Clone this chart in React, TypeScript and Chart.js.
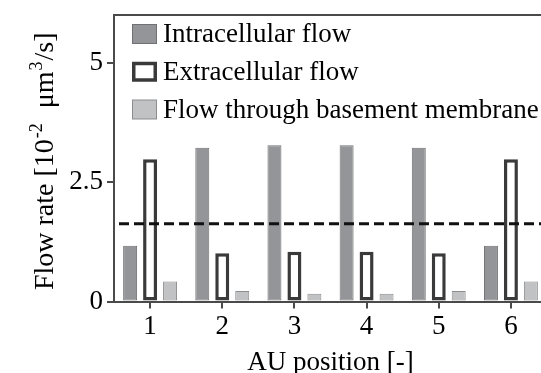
import { useEffect, useRef } from 'react';
import { Chart, registerables } from 'chart.js';

Chart.register(...registerables);

// ---- data ----
const categories = ['1', '2', '3', '4', '5', '6'];
const seriesNames = ['Intracellular flow', 'Extracellular flow', 'Flow through basement membrane'];
const intracellular = [1.17, 3.22, 3.27, 3.27, 3.22, 1.17];
const extracellular = [2.98, 1.01, 1.04, 1.04, 1.01, 2.98];
const basement = [0.42, 0.22, 0.16, 0.16, 0.22, 0.42];
const meanFlow = [1.63];
const yTicks = [0, 2.5, 5];
const yMax = 6;
const xTitle = 'AU position [-]';
const yTitleParts = [
  { text: 'Flow rate [10', sup: false },
  { text: '-2', sup: true },
  { text: '  μm', sup: false },
  { text: '3', sup: true },
  { text: '/s]', sup: false },
];

const FONT = "'Liberation Serif', 'Times New Roman', serif";
const AXIS = '#4a4a4a';

const dashedLinePlugin = {
  id: 'meanDashed',
  afterDatasetsDraw(chart: any) {
    const { ctx, chartArea, scales } = chart;
    const y = scales.y.getPixelForValue(meanFlow[0]);
    ctx.save();
    ctx.strokeStyle = '#111';
    ctx.lineWidth = 3;
    ctx.setLineDash([10, 5]);
    ctx.beginPath();
    ctx.moveTo(chartArea.left + 5, y);
    ctx.lineTo(chartArea.right, y);
    ctx.stroke();
    ctx.restore();
  },
};

const framePlugin = {
  id: 'topFrame',
  afterDraw(chart: any) {
    const { ctx, chartArea } = chart;
    ctx.save();
    ctx.strokeStyle = AXIS;
    ctx.lineWidth = 2;
    ctx.beginPath();
    ctx.moveTo(chartArea.left - 1, chartArea.top);
    ctx.lineTo(chartArea.right + 20, chartArea.top);
    ctx.stroke();
    ctx.restore();
  },
};

const legendPlugin = {
  id: 'insideLegend',
  afterDraw(chart: any) {
    const { ctx, chartArea } = chart;
    const x0 = chartArea.left + 18;
    chart.data.datasets.forEach((ds: any, i: number) => {
      const cy = chartArea.top + 19 + i * 37.75;
      const bw = 25;
      const bh = 20;
      const by = cy - bh / 2;
      const b = ds.borderWidth;
      ctx.save();
      ctx.fillStyle = ds.borderColor;
      ctx.fillRect(x0, by, bw, bh);
      ctx.fillStyle = ds.backgroundColor;
      ctx.fillRect(x0 + b, by + b, bw - 2 * b, bh - 2 * b);
      ctx.fillStyle = '#000';
      ctx.font = `27px ${FONT}`;
      ctx.textBaseline = 'middle';
      ctx.textAlign = 'left';
      ctx.fillText(ds.label, x0 + bw + 6, cy + 1);
      ctx.restore();
    });
  },
};

const yTitlePlugin = {
  id: 'yTitle',
  afterDraw(chart: any) {
    const { ctx, chartArea } = chart;
    const base = `28px ${FONT}`;
    const sup = `18px ${FONT}`;
    const gap = 2;
    // total length of the title
    let total = 0;
    for (const p of yTitleParts) {
      ctx.font = p.sup ? sup : base;
      total += ctx.measureText(p.text).width + (p.sup ? gap : 0);
    }
    const center = (chartArea.top + chartArea.bottom) / 2 + 3;
    ctx.save();
    ctx.translate(53, center + total / 2);
    ctx.rotate(-Math.PI / 2);
    ctx.fillStyle = '#000';
    ctx.textBaseline = 'alphabetic';
    ctx.textAlign = 'left';
    let x = 0;
    for (const p of yTitleParts) {
      ctx.font = p.sup ? sup : base;
      if (p.sup) x += 1;
      ctx.fillText(p.text, x, p.sup ? -11 : 0);
      x += ctx.measureText(p.text).width + (p.sup ? gap - 1 : 0);
    }
    ctx.restore();
  },
};

export default function App() {
  const ref = useRef<HTMLCanvasElement | null>(null);

  useEffect(() => {
    if (!ref.current) return;
    const chart = new Chart(ref.current, {
      type: 'bar',
      data: {
        labels: categories,
        datasets: [
          {
            label: seriesNames[0],
            data: intracellular,
            backgroundColor: '#939598',
            borderColor: '#707173',
            borderWidth: 1,
            borderSkipped: false,
          },
          {
            label: seriesNames[1],
            data: extracellular,
            backgroundColor: '#ffffff',
            borderColor: '#3a3a3a',
            borderWidth: 3.5,
            borderSkipped: false,
          },
          {
            label: seriesNames[2],
            data: basement,
            backgroundColor: '#c1c2c4',
            borderColor: '#8c8d8f',
            borderWidth: 1,
            borderSkipped: false,
          },
        ],
      },
      options: {
        responsive: false,
        animation: false,
        categoryPercentage: 0.83,
        barPercentage: 0.7,
        layout: { padding: { top: 15, right: 13, left: 0, bottom: 0 } },
        plugins: {
          legend: { display: false },
          tooltip: { enabled: false },
        },
        scales: {
          x: {
            type: 'category',
            offset: true,
            afterFit(scale: any) {
              scale.height = 71.5;
              scale.paddingLeft = 0;
              scale.paddingRight = 0;
            },
            grid: {
              offset: false,
              drawOnChartArea: false,
              drawTicks: true,
              tickLength: 7,
              color: AXIS,
              lineWidth: 2,
            },
            border: { display: true, color: AXIS, width: 2 },
            ticks: {
              color: '#000',
              font: { family: FONT, size: 27 },
              padding: 2,
              maxRotation: 0,
            },
            title: {
              display: true,
              text: xTitle,
              color: '#000',
              font: { family: FONT, size: 27, lineHeight: 0.74 },
              padding: 0,
            },
          },
          y: {
            type: 'linear',
            min: 0,
            max: yMax,
            afterBuildTicks(scale: any) {
              scale.ticks = yTicks.map((v) => ({ value: v }));
            },
            afterFit(scale: any) {
              scale.width = 114;
              scale.paddingTop = 0;
              scale.paddingBottom = 0;
            },
            grid: {
              drawOnChartArea: false,
              drawTicks: true,
              tickLength: 7,
              color: AXIS,
              lineWidth: 2,
            },
            border: { display: true, color: AXIS, width: 2 },
            ticks: {
              color: '#000',
              font: { family: FONT, size: 27 },
              padding: 4,
              callback: (v: any) => String(v),
            },
          },
        },
      },
      plugins: [dashedLinePlugin, framePlugin, legendPlugin, yTitlePlugin],
    });
    return () => chart.destroy();
  }, []);

  return (
    <div
      style={{
        position: 'fixed',
        left: 0,
        top: 0,
        width: 541,
        height: 373,
        overflow: 'hidden',
        background: '#fff',
      }}
    >
      <canvas ref={ref} width={560} height={373} style={{ display: 'block' }} />
    </div>
  );
}
